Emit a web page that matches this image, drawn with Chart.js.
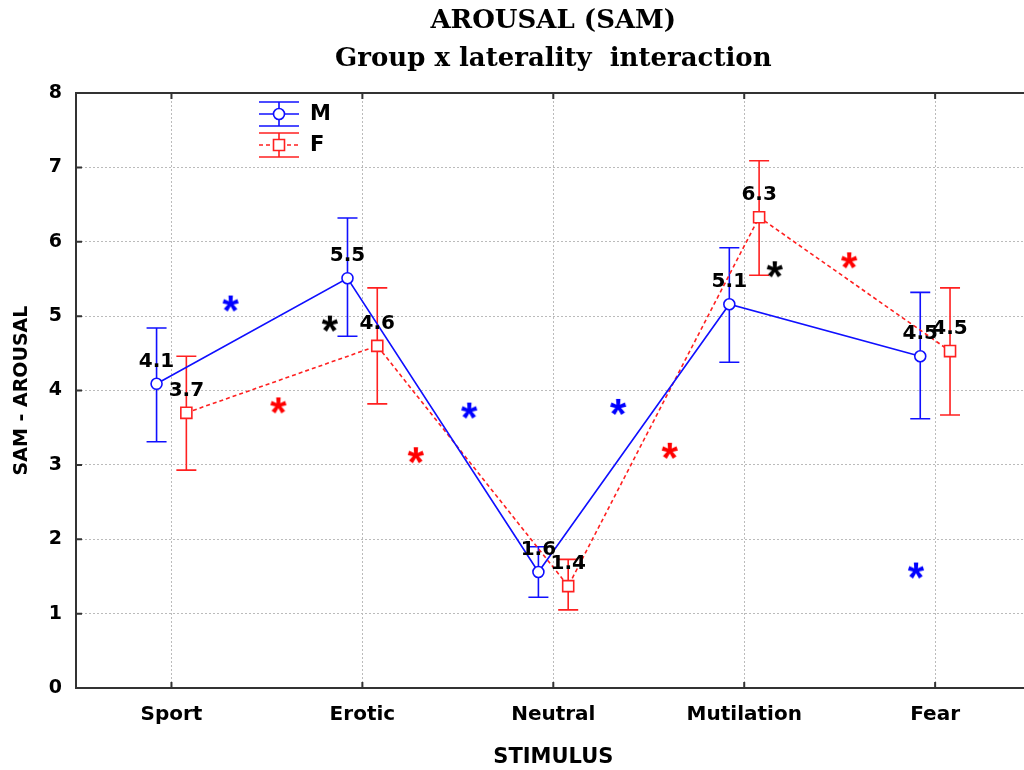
<!DOCTYPE html>
<html>
<head>
<meta charset="utf-8">
<script src="https://cdn.jsdelivr.net/npm/chart.js@4.4.1/dist/chart.umd.min.js"></script>
<style>
  html, body { margin: 0; padding: 0; background: #fff; overflow: hidden; }
  #wrap { width: 1024px; height: 770px; overflow: hidden; }
</style>
</head>
<body>
<div id="wrap"><canvas id="c" width="1040" height="770"></canvas></div>
<script>
// ---- data ----
const categories = ['Sport', 'Erotic', 'Neutral', 'Mutilation', 'Fear'];

const mMean   = [4.09, 5.51, 1.56, 5.16, 4.46];
const mLow    = [3.31, 4.73, 1.22, 4.38, 3.62];
const mHigh   = [4.84, 6.32, 1.90, 5.92, 5.32];
const mLabels = ['4.1', '5.5', '1.6', '5.1', '4.5'];

const fMean   = [3.70, 4.60, 1.37, 6.33, 4.53];
const fLow    = [2.93, 3.82, 1.05, 5.55, 3.67];
const fHigh   = [4.46, 5.38, 1.73, 7.09, 5.38];
const fLabels = ['3.7', '4.6', '1.4', '6.3', '4.5'];

// horizontal shift of each group inside a category (category units)
const mShift = -0.078;
const fShift = 0.078;

// significance asterisks (x in category units, y in SAM units)
const starBlueX  = [0.31, 1.56, 2.34, 3.90];
const starBlueY  = [5.21, 3.77, 3.82, 1.62];
const starRedX   = [0.56, 1.28, 2.61, 3.55];
const starRedY   = [3.84, 3.17, 3.23, 5.79];
const starBlackX = [0.83, 3.16];
const starBlackY = [4.94, 5.67];

const BLUE = '#1010ff';
const RED = '#ff2020';
const AXIS = '#333';
const SANS = '"DejaVu Sans", sans-serif';

function toPoints(xs, ys, shift) {
  return ys.map((v, i) => ({ x: (xs ? xs[i] : i) + (shift || 0), y: v }));
}

// asterisk glyph used as a point style
function starImage(color) {
  const c = document.createElement('canvas');
  c.width = 32; c.height = 32;
  const g = c.getContext('2d');
  g.fillStyle = color;
  g.font = 'bold 42px "Liberation Sans"';
  g.textAlign = 'center';
  g.textBaseline = 'alphabetic';
  g.fillText('*', 16, 16 + 0.58 * 42);
  return c;
}

// error bars, drawn under the markers
const errorBars = {
  id: 'errorBars',
  beforeDatasetsDraw(chart) {
    const { ctx, scales: { x, y } } = chart;
    const groups = [
      [mLow, mHigh, mShift, BLUE],
      [fLow, fHigh, fShift, RED],
    ];
    ctx.save();
    ctx.lineWidth = 1.6;
    groups.forEach(([lo, hi, shift, color]) => {
      ctx.strokeStyle = color;
      lo.forEach((v, i) => {
        const px = x.getPixelForValue(i + shift);
        const y1 = y.getPixelForValue(v);
        const y2 = y.getPixelForValue(hi[i]);
        ctx.beginPath();
        ctx.moveTo(px, y1); ctx.lineTo(px, y2);
        ctx.moveTo(px - 10, y1); ctx.lineTo(px + 10, y1);
        ctx.moveTo(px - 10, y2); ctx.lineTo(px + 10, y2);
        ctx.stroke();
      });
    });
    ctx.restore();
  }
};

// value labels, inward tick marks, top frame line and legend
const decorations = {
  id: 'decorations',
  afterDatasetsDraw(chart) {
    const { ctx, chartArea: a, scales: { x, y } } = chart;
    ctx.save();

    // top frame + inward ticks
    ctx.strokeStyle = AXIS;
    ctx.lineWidth = 2;
    ctx.beginPath();
    ctx.moveTo(a.left, a.top); ctx.lineTo(a.right, a.top);
    y.ticks.forEach(t => {
      const py = y.getPixelForValue(t.value);
      ctx.moveTo(a.left, py); ctx.lineTo(a.left + 6, py);
    });
    categories.forEach((_, i) => {
      const px = x.getPixelForValue(i);
      ctx.moveTo(px, a.bottom); ctx.lineTo(px, a.bottom - 6);
      ctx.moveTo(px, a.top); ctx.lineTo(px, a.top + 6);
    });
    ctx.stroke();

    // value labels
    ctx.fillStyle = '#000';
    ctx.font = 'bold 20px ' + SANS;
    ctx.textAlign = 'center';
    ctx.textBaseline = 'middle';
    [[mMean, mLabels, mShift], [fMean, fLabels, fShift]].forEach(([vals, labels, shift]) => {
      vals.forEach((v, i) => {
        ctx.fillText(labels[i], x.getPixelForValue(i + shift), y.getPixelForValue(v) - 22);
      });
    });

    // legend
    const lx = 259, lw = 40, cx = lx + lw / 2;
    const rows = [
      { name: 'M', color: BLUE, dash: [], cy: 114, half: 12 },
      { name: 'F', color: RED, dash: [4, 3], cy: 145, half: 12 },
    ];
    rows.forEach(r => {
      ctx.strokeStyle = r.color;
      ctx.lineWidth = 1.6;
      ctx.setLineDash([]);
      ctx.beginPath();
      ctx.moveTo(lx, r.cy - r.half); ctx.lineTo(lx + lw, r.cy - r.half);
      ctx.moveTo(lx, r.cy + r.half); ctx.lineTo(lx + lw, r.cy + r.half);
      ctx.moveTo(cx, r.cy - r.half); ctx.lineTo(cx, r.cy + r.half);
      ctx.stroke();
      ctx.setLineDash(r.dash);
      ctx.beginPath();
      ctx.moveTo(lx, r.cy); ctx.lineTo(lx + lw, r.cy);
      ctx.stroke();
      ctx.setLineDash([]);
      ctx.fillStyle = '#fff';
      ctx.beginPath();
      if (r.name === 'M') ctx.arc(cx, r.cy, 5.5, 0, Math.PI * 2);
      else ctx.rect(cx - 5.5, r.cy - 5.5, 11, 11);
      ctx.fill(); ctx.stroke();
      ctx.fillStyle = '#000';
      ctx.font = 'bold 21px ' + SANS;
      ctx.textAlign = 'left';
      ctx.fillText(r.name, lx + lw + 11, r.cy + 1);
    });

    ctx.restore();
  }
};

new Chart(document.getElementById('c'), {
  type: 'scatter',
  data: {
    datasets: [
      {
        label: 'M',
        data: toPoints(null, mMean, mShift),
        showLine: true,
        borderColor: BLUE,
        borderWidth: 1.6,
        backgroundColor: '#fff',
        pointStyle: 'circle',
        pointRadius: 5.5,
        pointBorderWidth: 1.6,
      },
      {
        label: 'F',
        data: toPoints(null, fMean, fShift),
        showLine: true,
        borderColor: RED,
        borderWidth: 1.6,
        borderDash: [4, 3],
        backgroundColor: '#fff',
        pointStyle: 'rect',
        pointRadius: 7.8,
        pointBorderWidth: 1.6,
      },
      { label: 'sigM', data: toPoints(starBlueX, starBlueY), pointStyle: starImage('#0000ff') },
      { label: 'sigF', data: toPoints(starRedX, starRedY), pointStyle: starImage('#ff0000') },
      { label: 'sigMF', data: toPoints(starBlackX, starBlackY), pointStyle: starImage('#000') },
    ]
  },
  options: {
    responsive: false,
    animation: false,
    layout: { padding: { left: 0, right: 5, top: 0, bottom: 0 } },
    plugins: {
      legend: { display: false },
      tooltip: { enabled: false },
      title: {
        display: true,
        fullSize: false,
        text: ['AROUSAL (SAM)', 'Group x laterality  interaction'],
        color: '#000',
        font: { family: '"DejaVu Serif", serif', size: 26, weight: 'bold', lineHeight: 38 / 26 },
        padding: { top: 2, bottom: 15 },
      },
    },
    scales: {
      x: {
        type: 'linear',
        min: -0.5,
        max: 4.5,
        afterBuildTicks: s => { s.ticks = categories.map((_, i) => ({ value: i })); },
        afterFit: s => { s.height = 82; },
        grid: { color: '#bbb', lineWidth: 1, drawTicks: false },
        border: { color: AXIS, width: 2, dash: [2, 2] },
        ticks: {
          autoSkip: false,
          maxRotation: 0,
          padding: 15,
          color: '#000',
          font: { family: SANS, size: 20, weight: 'bold' },
          callback: v => categories[v] ?? '',
        },
        title: {
          display: true,
          text: 'STIMULUS',
          color: '#000',
          font: { family: SANS, size: 21, weight: 'bold', lineHeight: 1.2 },
          padding: { top: 0, bottom: 0 },
        },
      },
      y: {
        min: 0,
        max: 8,
        afterFit: s => { s.width = 76; },
        grid: { color: '#bbb', lineWidth: 1, drawTicks: false },
        border: { color: AXIS, width: 2, dash: [2, 2] },
        ticks: {
          stepSize: 1,
          padding: 14,
          color: '#000',
          font: { family: SANS, size: 19, weight: 'bold' },
        },
        title: {
          display: true,
          text: 'SAM - AROUSAL',
          color: '#000',
          font: { family: SANS, size: 19, weight: 'bold', lineHeight: 1.2 },
          padding: { top: 11, bottom: 0 },
        },
      },
    },
  },
  plugins: [errorBars, decorations],
});
</script>
</body>
</html>
